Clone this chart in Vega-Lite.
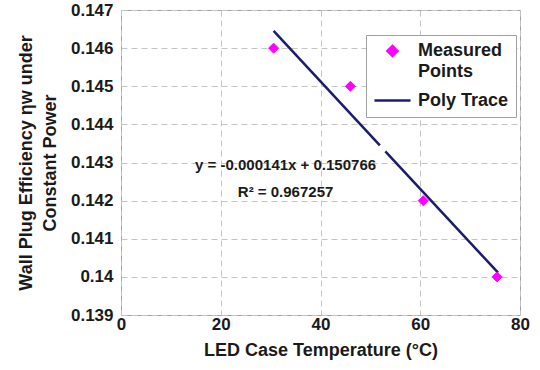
{
  "$schema": "https://vega.github.io/schema/vega-lite/v6.json",
  "autosize": {"type": "none"},
  "width": 399,
  "height": 305,
  "padding": {"left": 121, "top": 10, "right": 20, "bottom": 55},
  "background": "white",
  "config": {
    "view": {"stroke": "#a0a0a0", "strokeWidth": 1},
    "font": "Liberation Sans",
    "axis": {
      "labelFont": "Liberation Sans",
      "labelFontWeight": "bold",
      "labelFontSize": 17,
      "labelColor": "#1a1a1a",
      "labelOverlap": false,
      "labelFlush": false,
      "titleFont": "Liberation Sans",
      "titleFontWeight": "bold",
      "titleFontSize": 18,
      "titleColor": "#1a1a1a",
      "grid": true,
      "gridColor": "#c4c4c4",
      "gridDash": [6, 4],
      "gridWidth": 1,
      "domain": false,
      "ticks": false
    }
  },
  "datasets": {
    "measured": [
      {"temp": 30.6, "eff": 0.146, "series": "Measured Points"},
      {"temp": 46.0, "eff": 0.145, "series": "Measured Points"},
      {"temp": 60.6, "eff": 0.142, "series": "Measured Points"},
      {"temp": 75.4, "eff": 0.140, "series": "Measured Points"}
    ],
    "fit": [
      {"temp": 30.6, "eff": 0.14645, "seg": 1},
      {"temp": 51.9, "eff": 0.14345, "seg": 1},
      {"temp": 53.0, "eff": 0.14329, "seg": 2},
      {"temp": 75.6, "eff": 0.14011, "seg": 2}
    ],
    "note": [{"label": "fit"}]
  },
  "layer": [
    {
      "data": {"name": "fit"},
      "mark": {"type": "line", "color": "#1c1c6b", "strokeWidth": 2.5, "clip": true},
      "encoding": {
        "x": {"field": "temp", "type": "quantitative", "scale": {"domain": [0, 80], "nice": false},
              "axis": {"values": [0, 20, 40, 60, 80], "tickCount": 10, "title": "LED Case Temperature (°C)", "labelPadding": 1, "titlePadding": 9, "labelOverlap": false, "labelFlush": false}},
        "y": {"field": "eff", "type": "quantitative", "scale": {"domain": [0.139, 0.147], "nice": false, "zero": false},
              "axis": {"values": [0.139, 0.14, 0.141, 0.142, 0.143, 0.144, 0.145, 0.146, 0.147],
                       "tickCount": 12,
                       "labelExpr": "datum.value == 0.14 ? '0.14' : format(datum.value, '.3f')",
                       "labelOverlap": false, "labelFlush": false,
                       "title": ["Wall Plug Efficiency ηw under", "Constant Power"],
                       "labelPadding": 8, "titlePadding": 11, "titleLineHeight": 24}},
        "detail": {"field": "seg"}
      }
    },
    {
      "data": {"name": "measured"},
      "mark": {"type": "point", "filled": false, "strokeWidth": 1, "opacity": 1},
      "encoding": {
        "x": {"field": "temp", "type": "quantitative"},
        "y": {"field": "eff", "type": "quantitative"},
        "fill": {"field": "series", "type": "nominal",
                 "scale": {"domain": ["Measured Points", "Poly Trace"], "range": ["#ff00ff", "transparent"]},
                 "legend": {
                    "title": null, "orient": "none", "legendX": 245, "legendY": 25,
                    "fillColor": "white", "strokeColor": "#a0a0a0", "padding": 7,
                    "labelFont": "Liberation Sans", "labelFontWeight": "bold", "labelFontSize": 18,
                    "labelColor": "#1a1a1a", "labelLimit": 200, "rowPadding": -12, "labelOffset": 6,
                    "symbolStrokeWidth": 2.5, "symbolOpacity": 1,
                    "labelExpr": "datum.label == 'Measured Points' ? ['Measured', 'Points'] : datum.label",
                    "encode": {"labels": {"update": {"lineHeight": {"value": 21}}}}
                 }},
        "stroke": {"field": "series", "type": "nominal",
                   "scale": {"domain": ["Measured Points", "Poly Trace"], "range": ["#ff00ff", "#1c1c6b"]}},
        "shape": {"field": "series", "type": "nominal",
                  "scale": {"domain": ["Measured Points", "Poly Trace"], "range": ["diamond", "stroke"]}},
        "size": {"field": "series", "type": "nominal",
                 "scale": {"domain": ["Measured Points", "Poly Trace"], "range": [100, 1300]}}
      }
    },
    {
      "data": {"name": "note"},
      "mark": {"type": "text", "font": "Liberation Sans", "fontWeight": "bold", "fontSize": 15, "color": "#1a1a1a"},
      "encoding": {
        "x": {"datum": 33},
        "y": {"datum": 0.14293},
        "text": {"value": "y = -0.000141x + 0.150766"}
      }
    },
    {
      "data": {"name": "note"},
      "mark": {"type": "text", "font": "Liberation Sans", "fontWeight": "bold", "fontSize": 15, "color": "#1a1a1a"},
      "encoding": {
        "x": {"datum": 33},
        "y": {"datum": 0.14223},
        "text": {"value": "R² = 0.967257"}
      }
    }
  ]
}
